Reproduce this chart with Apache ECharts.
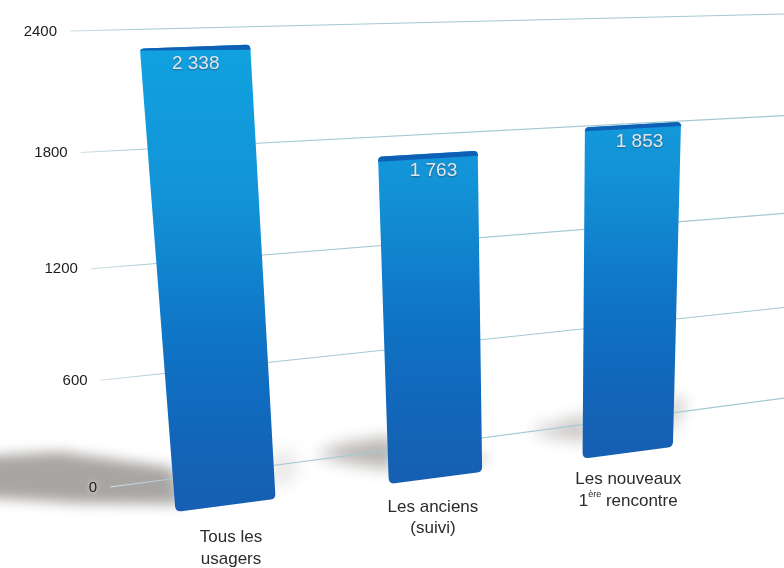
<!DOCTYPE html>
<html><head><meta charset="utf-8">
<style>html,body{margin:0;padding:0;background:#fff}#c{width:784px;height:568px}</style>
<script src="https://cdn.jsdelivr.net/npm/echarts@6/dist/echarts.min.js"></script>
</head><body><div id="c"></div>
<script>
const categories = ['Tous les\nusagers', 'Les anciens\n(suivi)', 'Les nouveaux\n1{sup|ère} rencontre'];
const barValues = [2338, 1763, 1853];
const barLabels = ['2 338', '1 763', '1 853'];
const tickValues = [0, 600, 1200, 1800, 2400];
const tickLabels = ['0', '600', '1200', '1800', '2400'];

// perspective planes (picture corners of the unit square): front of the bars and back wall
const FRONT = [[113.7,520],[718.4,441],[733,16.1],[70.5,37.2]];
const WALL = [[110,487],[800,396],[818,13.2],[70,31]];
function homography(q){
  const [x0,y0]=q[0],[x1,y1]=q[1],[x2,y2]=q[2],[x3,y3]=q[3];
  const dx1=x1-x2,dx2=x3-x2,sx=x0-x1+x2-x3,dy1=y1-y2,dy2=y3-y2,sy=y0-y1+y2-y3;
  const det=dx1*dy2-dx2*dy1,g=(sx*dy2-dx2*sy)/det,h=(dx1*sy-sx*dy1)/det;
  const a=x1-x0+g*x1,b=x3-x0+h*x3,d=y1-y0+g*y1,e=y3-y0+h*y3;
  return (u,v)=>{const w=g*u+h*v+1;return [(a*u+b*v+x0)/w,(d*u+e*v+y0)/w];};
}
const front=homography(FRONT), wall=homography(WALL);
const BAR_FRAC=[0.456,0.465,0.49];
function uv(p,cs){return [(p[0]-cs.x)/cs.width,1-(p[1]-cs.y)/cs.height];}
function barCorners(api,params){
  const cs=params.coordSys, i=api.value(0), val=api.value(1);
  const base=uv(api.coord([i,0]),cs), top=uv(api.coord([i,val]),cs);
  const hw=api.size([1,0])[0]/cs.width*BAR_FRAC[i]/2;
  return {bl:front(base[0]-hw,base[1]),br:front(base[0]+hw,base[1]),
          tr:front(base[0]+hw,top[1]),tl:front(base[0]-hw,top[1]),
          bc:front(base[0],base[1]),tc:front(base[0],top[1]),
          yTop:front(base[0],1)[1],yBase:front(base[0],0)[1],i};
}
function roundPath(pts,radii){
  let s='';const n=pts.length;
  for(let k=0;k<n;k++){
    const p=pts[k],a=pts[(k+n-1)%n],b=pts[(k+1)%n],r=radii[k];
    const la=Math.hypot(a[0]-p[0],a[1]-p[1]),lb=Math.hypot(b[0]-p[0],b[1]-p[1]);
    const s1=[p[0]+(a[0]-p[0])*r/la,p[1]+(a[1]-p[1])*r/la],s2=[p[0]+(b[0]-p[0])*r/lb,p[1]+(b[1]-p[1])*r/lb];
    s+=(k?'L':'M')+s1[0].toFixed(1)+' '+s1[1].toFixed(1)+'Q'+p[0].toFixed(1)+' '+p[1].toFixed(1)+' '+s2[0].toFixed(1)+' '+s2[1].toFixed(1);
  }
  return s+'Z';
}
// soft floor shadows, offsets relative to each bar's lower corners
const SHADOW_LEFT=[
 {pts:[[6,-8],[-2,-44],[-115,-60],[-215,-54],[-215,-16],[-95,-9]],color:'#a8a5a2',blur:13},
 {pts:[[6,-14],[6,-48],[-45,-40],[-74,-30],[-50,-23]],color:'#b8b6b3',blur:16},
 {pts:[[6,-16],[6,-46],[-25,-36],[-55,-28],[-30,-22]],color:'#cbc9c7',blur:16}];
const SHADOW_RIGHT=[
 {pts:[[-6,-8],[-6,-46],[18,-50],[22,-22]],color:'#e9e8e7',blur:18},
 {pts:[[-6,-8],[-6,-20],[6,-16],[6,-8]],color:'#d6d5d3',blur:12},
 {pts:[[-6,-14],[-6,-50],[14,-48],[4,-22]],color:'#cfcdcb',blur:16}];
const OFF=3000;
function shadowEl(s,origin){
  return {type:'polygon',shape:{points:s.pts.map(p=>[origin[0]+p[0]-OFF,origin[1]+p[1]])},
    style:{fill:s.color,shadowColor:s.color,shadowBlur:s.blur,shadowOffsetX:OFF,shadowOffsetY:0}};
}
const BODY_STOPS=[{offset:0,color:'#10a3e0'},{offset:0.35,color:'#1393d7'},{offset:0.65,color:'#0f74c5'},{offset:0.85,color:'#1266ba'},{offset:1,color:'#165fb2'}];
const CAP_DROP=[[2,5],[5,5],[4,4]];
const chart=echarts.init(document.getElementById('c'),null,{renderer:'canvas'});
chart.setOption({
  animation:false,backgroundColor:'#fff',
  grid:{left:0,right:0,top:0,bottom:0},
  xAxis:{type:'category',data:categories,show:false},
  yAxis:{type:'value',min:0,max:2400,interval:600,show:false},
  series:[
   {type:'custom',coordinateSystem:'cartesian2d',clip:false,z:1,silent:true,
    data:barValues.map((v,i)=>[i,v]),
    renderItem(params,api){
      const c=barCorners(api,params);
      return {type:'group',children:[shadowEl(SHADOW_LEFT[c.i],c.bl),shadowEl(SHADOW_RIGHT[c.i],c.br)]};
    }},
   {type:'custom',coordinateSystem:'cartesian2d',clip:false,z:2,silent:true,
    data:tickValues.map((v,i)=>[0,v,i]),
    renderItem(params,api){
      const cs=params.coordSys,v=uv(api.coord([0,api.value(1)]),cs)[1];
      const a=wall(0,v),b=wall(1,v);
      return {type:'group',children:[
        {type:'line',shape:{x1:a[0],y1:a[1],x2:b[0],y2:b[1]},
         style:{stroke:{type:'linear',x:a[0],y:0,x2:a[0]+70,y2:0,global:true,colorStops:[{offset:0,color:'#cfe0e6'},{offset:1,color:'#a3c8d3'}]},lineWidth:1.1}},
        {type:'text',style:{text:tickLabels[api.value(2)],x:a[0]-13,y:a[1]+0.5,align:'right',verticalAlign:'middle',
          font:'15px "Liberation Sans", Arial, sans-serif',fill:'#1c1c1c',textShadowColor:'rgba(255,255,255,0.9)',textShadowBlur:4}}
      ]};
    }},
   {type:'custom',coordinateSystem:'cartesian2d',clip:false,z:3,silent:true,
    data:barValues.map((v,i)=>[i,v]),
    renderItem(params,api){
      const c=barCorners(api,params);
      const nudge=[0,5,6][c.i], labelDx=[5,-3,0][c.i], labelDy=[43,40,37.5][c.i];
      const drop=CAP_DROP[c.i];
      const cap=[[c.tl[0]+1,c.tl[1]],[c.tr[0]-1,c.tr[1]],[c.tr[0]+0.5,c.tr[1]+drop[1]],[c.tl[0]-0.2,c.tl[1]+drop[0]]];
      return {type:'group',children:[
        {type:'path',shape:{pathData:roundPath([c.tl,c.tr,c.br,c.bl],[4,4,5,6])},
         style:{fill:{type:'linear',x:0,y:c.yTop,x2:0,y2:c.yBase,global:true,colorStops:BODY_STOPS}}},
        {type:'path',shape:{pathData:roundPath(cap,[3,3,0,0])},style:{fill:'#0e5fb6'}},
        {type:'text',style:{text:barLabels[c.i],x:c.tc[0]+nudge,y:c.tc[1]+17,align:'center',verticalAlign:'middle',
          font:'19px "Liberation Sans", Arial, sans-serif',fill:'#e0e7ec',textShadowColor:'rgba(40,60,90,0.65)',textShadowBlur:2,textShadowOffsetY:1}},
        {type:'text',style:{text:categories[c.i],x:c.bc[0]+labelDx,y:c.bc[1]+labelDy,align:'center',verticalAlign:'middle',
          font:'17px "Liberation Sans", Arial, sans-serif',fill:'#2b2b2b',lineHeight:21.5,
          rich:{sup:{fontSize:9,fill:'#2b2b2b',verticalAlign:'top',lineHeight:21.5}}}}
      ]};
    }}
  ]
});
</script></body></html>
